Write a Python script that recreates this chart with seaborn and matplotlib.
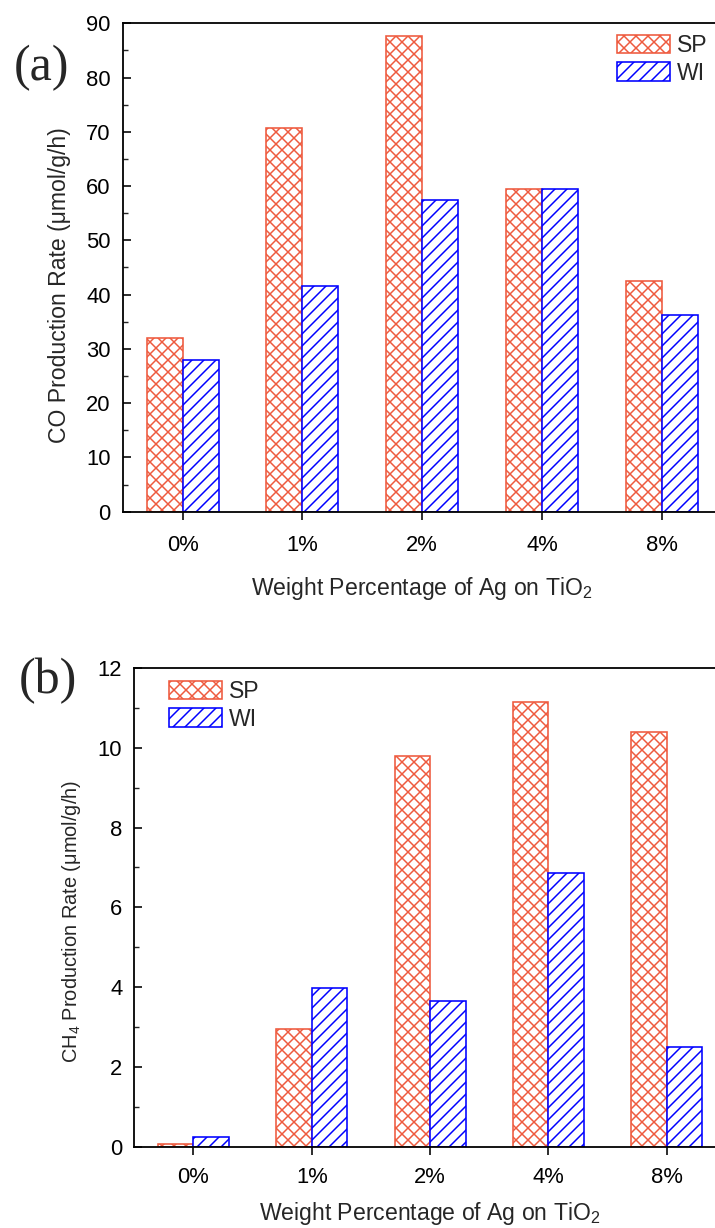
import matplotlib
matplotlib.use("Agg")
import matplotlib.pyplot as plt
from matplotlib.patches import Patch
from matplotlib.ticker import MultipleLocator
import pandas as pd
import seaborn as sns

# Ag loading on TiO2 and the two preparation methods
loadings = ["0%", "1%", "2%", "4%", "8%"]
methods = ["SP", "WI"]

# CO production rate (umol/g/h)
co_sp = [32.0, 70.7, 87.6, 59.4, 42.6]
co_wi = [28.0, 41.5, 57.4, 59.5, 36.2]

# CH4 production rate (umol/g/h)
ch4_sp = [0.08, 2.95, 9.8, 11.15, 10.4]
ch4_wi = [0.25, 3.98, 3.65, 6.85, 2.5]

colors = {"SP": "#EE5A3E", "WI": "#0000FF"}
hatches = {"SP": "xx", "WI": "//"}

sns.set_theme(style="ticks")
plt.rcParams["font.family"] = ["Liberation Sans", "DejaVu Sans"]
plt.rcParams["mathtext.fontset"] = "custom"
plt.rcParams["mathtext.rm"] = "Liberation Sans"
plt.rcParams["mathtext.it"] = "Liberation Sans:italic"
plt.rcParams["mathtext.bf"] = "Liberation Sans:bold"
plt.rcParams["hatch.linewidth"] = 1.5

W, H, DPI = 715, 1228, 72
fig = plt.figure(figsize=(W / DPI, H / DPI), dpi=DPI, facecolor="white")


def axes_px(left, top, right, bottom):
    return fig.add_axes([left / W, 1 - bottom / H, (right - left) / W, (bottom - top) / H])


def panel(ax, sp, wi, ylabel, ylab_size, ymax, major, minor, anchor, xpad,
          xlab_y, ylab_y):
    df = pd.DataFrame({
        "loading": loadings * 2,
        "method": ["SP"] * len(sp) + ["WI"] * len(wi),
        "rate": list(sp) + list(wi),
    })
    sns.barplot(data=df, x="loading", y="rate", hue="method", order=loadings,
                hue_order=methods, palette=colors, width=0.6, gap=0,
                errorbar=None, legend=False, ax=ax)
    for method, cont in zip(methods, ax.containers):
        for bar in cont:
            bar.set_facecolor("white")
            bar.set_edgecolor(colors[method])
            bar.set_hatch(hatches[method])
            bar.set_linewidth(1.6)

    ax.set_xlim(-0.5, 4.5)
    ax.set_ylim(0, ymax)
    ax.yaxis.set_major_locator(MultipleLocator(major))
    ax.yaxis.set_minor_locator(MultipleLocator(minor))

    for s in ax.spines.values():
        s.set_linewidth(1.8)
        s.set_color("black")

    ax.tick_params(axis="x", direction="out", length=8, width=1.6, pad=xpad,
                   labelsize=22, colors="black")
    ax.tick_params(axis="y", which="major", direction="in", length=8, width=1.6,
                   pad=12, labelsize=22, colors="black")
    ax.tick_params(axis="y", which="minor", direction="in", length=5, width=1.4)

    ax.set_xlabel("Weight Percentage of Ag on TiO$_2$", fontsize=23)
    ax.set_ylabel(ylabel, fontsize=ylab_size)
    ax.xaxis.set_label_coords(0.5, xlab_y)
    ax.xaxis.label.set_va("center")
    ax.yaxis.set_label_coords(-0.106, ylab_y)
    ax.yaxis.label.set_va("center")

    handles = [Patch(facecolor="white", edgecolor=colors[m], hatch=hatches[m],
                     linewidth=1.6, label=m) for m in methods]
    ax.legend(handles=handles, loc="upper left", bbox_to_anchor=anchor,
              frameon=False, fontsize=23, handlelength=2.3, handleheight=0.88,
              handletextpad=0.3, labelspacing=0.2, borderpad=0, borderaxespad=0)


ax_a = axes_px(122.7, 23.3, 721.6, 511.7)
panel(ax_a, co_sp, co_wi, "CO Production Rate (μmol/g/h)", 23, 90, 10, 5,
      (0.8254, 0.978), 15.2, -0.158, 0.464)

ax_b = axes_px(134.3, 668.0, 726.0, 1146.7)
panel(ax_b, ch4_sp, ch4_wi, "CH$_4$ Production Rate (μmol/g/h)", 20, 12, 2, 1,
      (0.0586, 0.975), 12.5, -0.139, 0.471)

fig.text(41 / W, 1 - 68 / H, "(a)", family=["Liberation Serif"], fontsize=50,
         ha="center", va="center")
fig.text(48 / W, 1 - 681 / H, "(b)", family=["Liberation Serif"], fontsize=50,
         ha="center", va="center")

fig.savefig("out.png", dpi=DPI, facecolor="white")
